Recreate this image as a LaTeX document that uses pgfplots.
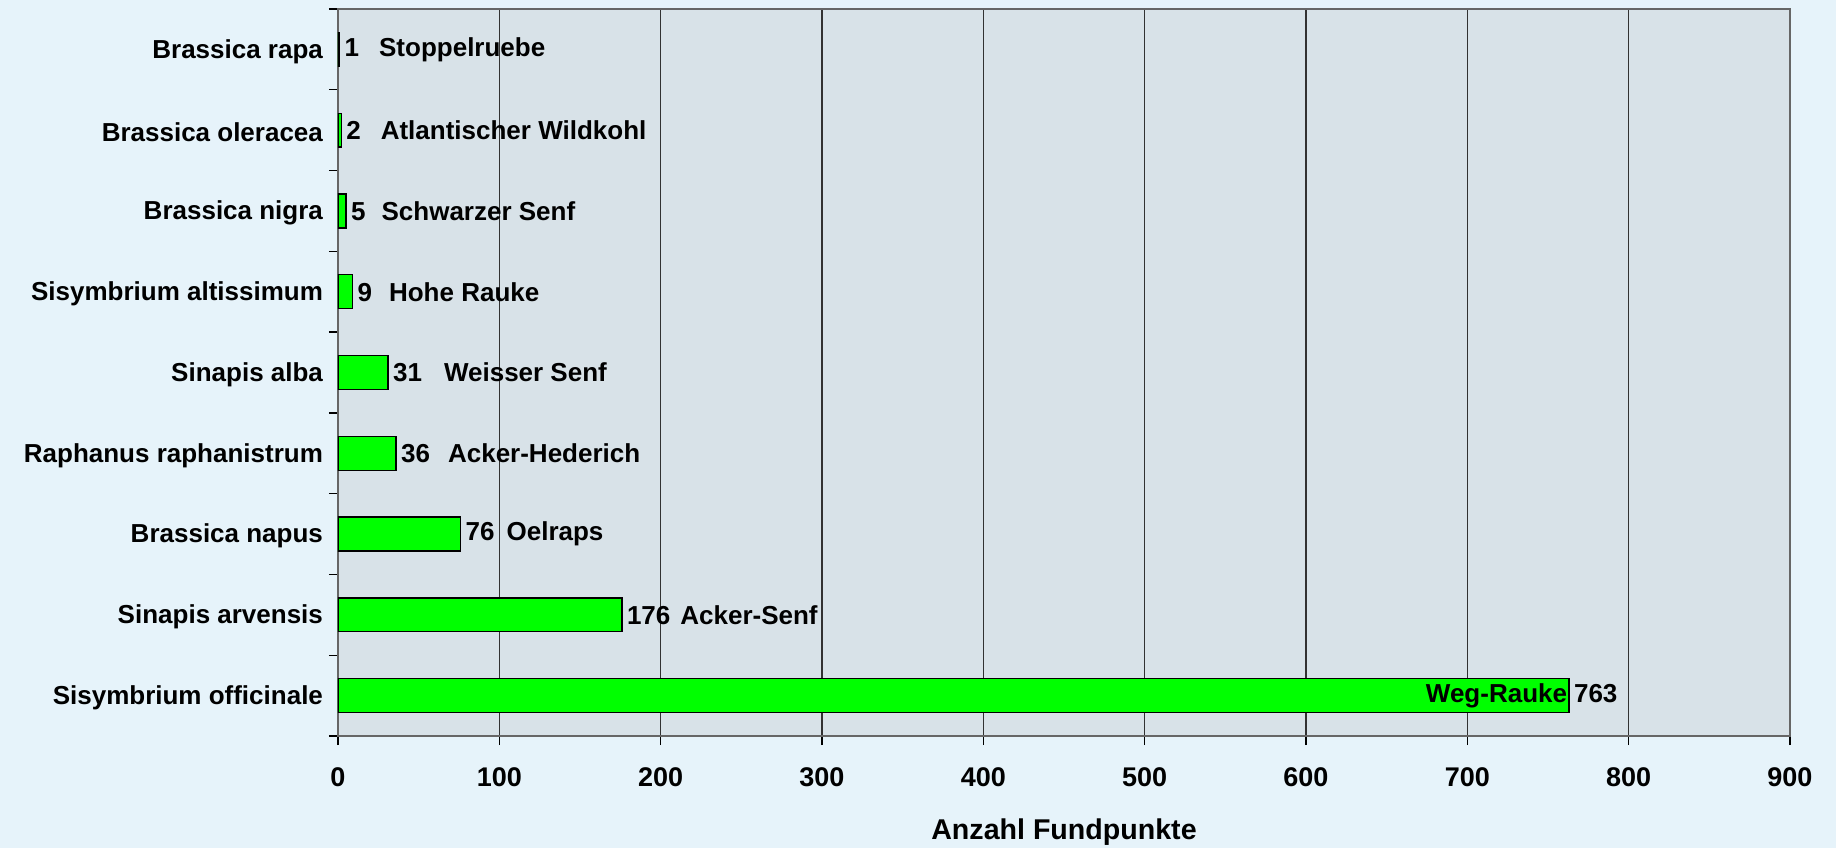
\documentclass[border=0pt]{standalone}
\usepackage{fontspec}
\setmainfont{Liberation Sans}
\usepackage{pgfplots}
\pgfplotsset{compat=1.18}
\definecolor{pagebg}{RGB}{230,243,250}
\definecolor{plotbg}{RGB}{216,226,232}
\definecolor{bargreen}{RGB}{0,255,0}
\definecolor{gridc}{RGB}{50,50,50}
\begin{document}
\begin{tikzpicture}
\fill[pagebg] (-169bp,-56bp) rectangle (749bp,368bp);
\useasboundingbox (-169bp,-56bp) rectangle (749bp,368bp);
\begin{axis}[
  at={(0,0)}, anchor=south west,
  scale only axis, width=726bp, height=363.5bp,
  xmin=0, xmax=900, ymin=-0.5, ymax=8.5,
  xtick={0,100,...,900},
  ytick={-0.5,0.5,...,8.5}, yticklabels={},
  extra y ticks={0,1,...,8},
  extra y tick labels={Sisymbrium officinale,Sinapis arvensis,Brassica napus,Raphanus raphanistrum,Sinapis alba,Sisymbrium altissimum,Brassica nigra,Brassica oleracea,Brassica rapa},
  extra y tick style={major tick length=0pt, grid=none},
  xtick pos=bottom, ytick pos=left,
  tick align=outside, major tick length=4.5bp,
  tick style={draw=black, line width=0.7pt},
  xmajorgrids, major grid style={draw=gridc, line width=0.7pt},
  axis line style={draw=black!60, line width=1pt},
  axis background/.style={fill=plotbg},
  /pgf/number format/assume math mode=true,
  xticklabel style={font=\fontsize{13.5bp}{15bp}\selectfont\bfseries, yshift=-8bp},
  yticklabel style={font=\fontsize{13bp}{15bp}\selectfont\bfseries, xshift=-4bp, yshift=-1bp},
  xlabel={Anzahl Fundpunkte},
  xlabel style={font=\fontsize{14.3bp}{16bp}\selectfont\bfseries, yshift=-9bp},
  xbar, bar width=0.42,
  point meta=explicit symbolic,
  nodes near coords,
  every node near coord/.append style={anchor=west, inner sep=2.2bp, font=\fontsize{13bp}{15bp}\selectfont\bfseries, black},
]
\addplot[draw=black, line width=0.7pt, fill=bargreen] coordinates {
  (763,0) [{\llap{Weg-Rauke\hspace{3.5bp}}763}]
  (176,1) [{176\hspace{5bp}Acker-Senf}]
  (76,2) [{76\hspace{6bp}Oelraps}]
  (36,3) [{36\hspace{9bp}Acker-Hederich}]
  (31,4) [{31\hspace{11bp}Weisser Senf}]
  (9,5) [{9\hspace{8.5bp}Hohe Rauke}]
  (5,6) [{5\hspace{8bp}Schwarzer Senf}]
  (2,7) [{2\hspace{10bp}Atlantischer Wildkohl}]
  (1,8) [{1\hspace{10bp}Stoppelruebe}]
};
\end{axis}
\end{tikzpicture}
\end{document}
